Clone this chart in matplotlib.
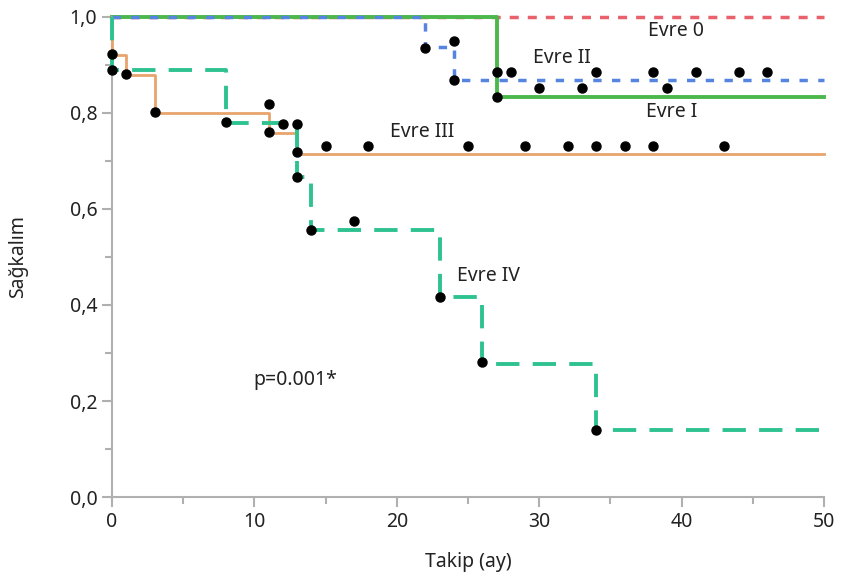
import matplotlib
matplotlib.use('Agg')
import matplotlib.pyplot as plt

plt.rcParams['font.family'] = ['Noto Sans', 'DejaVu Sans']

# survival curves (time in months, survival)
evre0_t = [0, 50]
evre0_s = [1.0, 1.0]

evre1_t = [0, 27, 50]
evre1_s = [1.0, 0.833, 0.833]

evre2_t = [0, 22, 24, 50]
evre2_s = [1.0, 0.9375, 0.869, 0.869]

evre3_t = [0, 0, 1, 3, 11, 13, 50]
evre3_s = [1.0, 0.921, 0.879, 0.80, 0.758, 0.714, 0.714]

evre4_t = [0, 0, 8, 13, 14, 23, 26, 34, 50]
evre4_s = [1.0, 0.889, 0.778, 0.667, 0.556, 0.417, 0.278, 0.139, 0.139]

# observation marks
evre1_mt = [27, 30, 33, 39]
evre1_ms = [0.833, 0.852, 0.852, 0.852]

evre2_mt = [22, 24, 24, 27, 28, 34, 38, 41, 44, 46]
evre2_ms = [0.935, 0.95, 0.869, 0.885, 0.885, 0.885, 0.885, 0.885, 0.885, 0.885]

evre3_mt = [0, 1, 3, 11, 11, 12, 13, 15, 18, 25, 29, 32, 34, 36, 38, 43]
evre3_ms = [0.923, 0.881, 0.802, 0.819, 0.760, 0.777, 0.719, 0.731, 0.731,
            0.731, 0.731, 0.731, 0.731, 0.731, 0.731, 0.731]

evre4_mt = [0, 8, 13, 13, 14, 17, 23, 26, 34]
evre4_ms = [0.890, 0.781, 0.777, 0.667, 0.556, 0.575, 0.417, 0.281, 0.140]

labels = ['Evre 0', 'Evre I', 'Evre II', 'Evre III', 'Evre IV']
label_x = [39.6, 39.3, 31.6, 21.8, 26.4]
label_y = [0.971, 0.802, 0.915, 0.760, 0.460]

fig = plt.figure(figsize=(8.41, 5.78), dpi=100)
ax = fig.add_axes([0.133, 0.140, 0.847, 0.831])

# lines sit on the top edge, so don't clip them
ax.step(evre0_t, evre0_s, where='post', color='#e8616b', lw=2.5,
        dashes=(2.6, 2.6), zorder=2, clip_on=False)
ax.step(evre1_t, evre1_s, where='post', color='#4cb84c', lw=2.8, zorder=3,
        clip_on=False)
ax.step(evre2_t, evre2_s, where='post', color='#5585e0', lw=2.5,
        dashes=(2.4, 3.0), zorder=4, clip_on=False)
ax.step(evre3_t, evre3_s, where='post', color='#e8a46c', lw=2.0, zorder=3,
        clip_on=False)
ax.step(evre4_t, evre4_s, where='post', color='#2ec28f', lw=2.8,
        dashes=(6.0, 3.4), zorder=4, clip_on=False)

for t, s in [(evre1_mt, evre1_ms), (evre2_mt, evre2_ms),
             (evre3_mt, evre3_ms), (evre4_mt, evre4_ms)]:
    ax.plot(t, s, 'o', color='black', ms=6.5, zorder=6, clip_on=False)

for lab, x, y in zip(labels, label_x, label_y):
    ax.text(x, y, lab, ha='center', va='center', fontsize=14, color='#222222')
ax.text(12.9, 0.244, 'p=0.001*', ha='center', va='center', fontsize=14,
        color='#222222')

ax.set_xlim(0, 50)
ax.set_ylim(0, 1.0)
ax.set_xticks(range(0, 51, 10))
ax.set_xticks(range(5, 50, 10), minor=True)
ax.set_yticks([0, 0.2, 0.4, 0.6, 0.8, 1.0])
ax.set_yticklabels(['0,0', '0,2', '0,4', '0,6', '0,8', '1,0'])
ax.set_yticks([0.1, 0.3, 0.5, 0.7, 0.9], minor=True)

for side in ['top', 'right']:
    ax.spines[side].set_visible(False)
for side in ['left', 'bottom']:
    ax.spines[side].set_color('#b0b0b0')
    ax.spines[side].set_linewidth(1.5)
ax.tick_params(which='both', direction='out', color='#b0b0b0', width=1.5,
               labelsize=14, labelcolor='#222222')
ax.tick_params(which='major', length=7)
ax.tick_params(which='minor', length=5)

ax.set_xlabel('Takip (ay)', fontsize=14, color='#222222')
ax.set_ylabel('Sağkalım', fontsize=14, color='#222222')
ax.yaxis.set_label_coords(-0.118, 0.5)
ax.xaxis.set_label_coords(0.5, -0.115)

fig.savefig('out.png', dpi=100)
